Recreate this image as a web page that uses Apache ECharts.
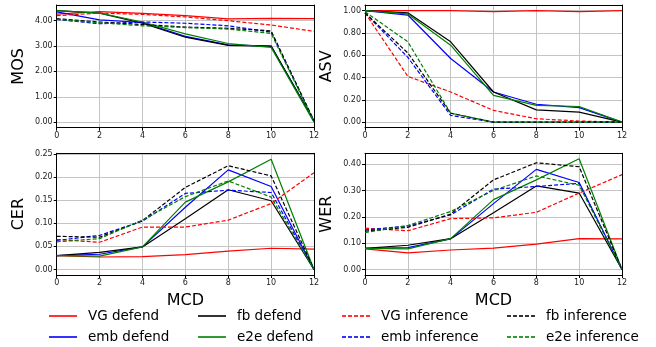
<!DOCTYPE html>
<html><head><meta charset="utf-8">
<script src="https://cdn.jsdelivr.net/npm/echarts@6/dist/echarts.min.js"></script>
<style>html,body{margin:0;padding:0;background:#fff}#c{width:656px;height:347px}</style>
</head><body><div id="c"></div>
<script>
// x positions (MCD)
const mcd = [0, 2, 4, 6, 8, 10, 12];
const xTicks = [0, 2, 4, 6, 8, 10, 12];
const seriesNames = ['VG defend', 'emb defend', 'fb defend', 'e2e defend',
                     'VG inference', 'emb inference', 'fb inference', 'e2e inference'];

// MOS
const mosVGDefend   = [4.26, 4.36, 4.29, 4.20, 4.07, 4.09, 4.08];
const mosEmbDefend  = [4.35, 4.03, 3.93, 3.38, 3.05, 3.00, 0.03];
const mosFbDefend   = [4.40, 4.30, 3.90, 3.35, 3.03, 3.00, 0.05];
const mosE2eDefend  = [4.40, 4.30, 3.95, 3.48, 3.10, 2.95, 0.00];
const mosVGInf      = [4.20, 4.30, 4.25, 4.15, 4.00, 3.83, 3.58];
const mosEmbInf     = [4.05, 3.88, 3.95, 3.90, 3.80, 3.55, 0.05];
const mosFbInf      = [4.08, 3.95, 3.85, 3.75, 3.70, 3.60, 0.05];
const mosE2eInf     = [4.05, 3.92, 3.80, 3.73, 3.67, 3.50, 0.02];
// ASV
const asvVGDefend   = [1.00, 1.00, 1.00, 0.99, 1.00, 0.99, 1.00];
const asvEmbDefend  = [1.00, 0.96, 0.57, 0.27, 0.16, 0.13, 0.00];
const asvFbDefend   = [1.00, 0.98, 0.72, 0.27, 0.11, 0.09, 0.00];
const asvE2eDefend  = [1.00, 0.97, 0.69, 0.24, 0.15, 0.14, 0.00];
const asvVGInf      = [0.98, 0.41, 0.27, 0.105, 0.03, 0.01, 0.00];
const asvEmbInf     = [0.98, 0.58, 0.06, 0.00, 0.00, 0.00, 0.00];
const asvFbInf      = [0.98, 0.62, 0.08, 0.00, 0.00, 0.00, 0.00];
const asvE2eInf     = [0.99, 0.72, 0.08, 0.00, 0.00, 0.00, 0.00];
// CER
const cerVGDefend   = [0.030, 0.027, 0.028, 0.032, 0.040, 0.046, 0.044];
const cerEmbDefend  = [0.030, 0.033, 0.049, 0.135, 0.216, 0.180, 0.000];
const cerFbDefend   = [0.030, 0.037, 0.049, 0.110, 0.173, 0.149, 0.000];
const cerE2eDefend  = [0.030, 0.029, 0.049, 0.146, 0.190, 0.239, 0.000];
const cerVGInf      = [0.065, 0.059, 0.092, 0.092, 0.107, 0.143, 0.210];
const cerEmbInf     = [0.063, 0.074, 0.105, 0.165, 0.172, 0.167, 0.000];
const cerFbInf      = [0.072, 0.070, 0.106, 0.178, 0.225, 0.203, 0.000];
const cerE2eInf     = [0.060, 0.067, 0.107, 0.158, 0.192, 0.157, 0.000];
// WER
const werVGDefend   = [0.078, 0.063, 0.074, 0.081, 0.096, 0.117, 0.116];
const werEmbDefend  = [0.080, 0.083, 0.116, 0.250, 0.380, 0.330, 0.000];
const werFbDefend   = [0.080, 0.092, 0.117, 0.215, 0.317, 0.290, 0.000];
const werE2eDefend  = [0.080, 0.078, 0.117, 0.265, 0.340, 0.420, 0.000];
const werVGInf      = [0.157, 0.147, 0.193, 0.196, 0.217, 0.290, 0.360];
const werEmbInf     = [0.150, 0.165, 0.207, 0.305, 0.315, 0.327, 0.000];
const werFbInf      = [0.145, 0.160, 0.210, 0.340, 0.405, 0.390, 0.000];
const werE2eInf     = [0.140, 0.167, 0.220, 0.300, 0.355, 0.320, 0.000];

const mosTicks = [0, 1, 2, 3, 4];
const asvTicks = [0, 0.2, 0.4, 0.6, 0.8, 1.0];
const cerTicks = [0, 0.05, 0.10, 0.15, 0.20, 0.25];
const werTicks = [0, 0.1, 0.2, 0.3, 0.4];

const colors = ['#ff0000', '#0000ff', '#000000', '#008000'];
const FONT = 'DejaVu Sans';

const panels = [
  {title: 'MOS', min: -0.22, max: 4.62, ticks: mosTicks,
   data: [mosVGDefend, mosEmbDefend, mosFbDefend, mosE2eDefend, mosVGInf, mosEmbInf, mosFbInf, mosE2eInf],
   grid: {left: 56.7, top: 5, width: 257.3, height: 122.7}, xname: ''},
  {title: 'ASV', min: -0.05, max: 1.05, ticks: asvTicks,
   data: [asvVGDefend, asvEmbDefend, asvFbDefend, asvE2eDefend, asvVGInf, asvEmbInf, asvFbInf, asvE2eInf],
   grid: {left: 365, top: 5, width: 257, height: 122.7}, xname: ''},
  {title: 'CER', min: -0.012, max: 0.252, ticks: cerTicks,
   data: [cerVGDefend, cerEmbDefend, cerFbDefend, cerE2eDefend, cerVGInf, cerEmbInf, cerFbInf, cerE2eInf],
   grid: {left: 56.7, top: 153.3, width: 257.3, height: 121.7}, xname: 'MCD'},
  {title: 'WER', min: -0.021, max: 0.441, ticks: werTicks,
   data: [werVGDefend, werEmbDefend, werFbDefend, werE2eDefend, werVGInf, werEmbInf, werFbInf, werE2eInf],
   grid: {left: 365, top: 153.3, width: 257, height: 121.7}, xname: 'MCD'}
];

const grid = [], xAxis = [], yAxis = [], series = [];
const labelStyle = {fontFamily: FONT, fontSize: 8, color: '#222'};
panels.forEach((p, i) => {
  grid.push(Object.assign({containLabel: false}, p.grid));
  xAxis.push({
    type: 'value', gridIndex: i, min: 0, max: 12, interval: 2,
    axisLine: {show: true, onZero: false, lineStyle: {color: '#000', width: 1}},
    axisTick: {show: true, length: 3, lineStyle: {color: '#000'}},
    axisLabel: Object.assign({margin: 4, formatter: v => String(v)}, labelStyle),
    splitLine: {show: true, lineStyle: {color: '#c4c4c4', width: 1}},
    name: p.xname, nameLocation: 'middle', nameGap: 18,
    nameTextStyle: {fontFamily: FONT, fontSize: 16, color: '#000'}
  });
  xAxis.push({
    type: 'value', gridIndex: i, min: 0, max: 12, position: 'top', z: 5,
    axisLine: {show: true, onZero: false, lineStyle: {color: '#000', width: 1}},
    axisTick: {show: false}, axisLabel: {show: false}, splitLine: {show: false}
  });
  yAxis.push({
    type: 'value', gridIndex: i, min: p.min, max: p.max,
    axisLine: {show: true, onZero: false, lineStyle: {color: '#000', width: 1}},
    axisTick: {show: true, length: 3, customValues: p.ticks, lineStyle: {color: '#000'}},
    axisLabel: Object.assign({margin: 4, customValues: p.ticks, formatter: v => Number(v).toFixed(2)}, labelStyle),
    splitLine: {show: true, lineStyle: {color: '#c4c4c4', width: 1}},
    name: p.title, nameLocation: 'middle', nameGap: 30,
    nameTextStyle: {fontFamily: FONT, fontSize: 16, color: '#000'}
  });
  yAxis.push({
    type: 'value', gridIndex: i, min: p.min, max: p.max, position: 'right', z: 5,
    axisLine: {show: true, onZero: false, lineStyle: {color: '#000', width: 1}},
    axisTick: {show: false}, axisLabel: {show: false}, splitLine: {show: false}
  });
  p.data.forEach((arr, k) => {
    series.push({
      type: 'line', name: seriesNames[k],
      xAxisIndex: 2 * i, yAxisIndex: 2 * i,
      data: mcd.map((x, j) => [x, arr[j]]),
      symbol: 'none', silent: true, animation: false,
      color: colors[k % 4],
      lineStyle: {color: colors[k % 4], width: 1.2, type: k < 4 ? 'solid' : [4, 2]}
    });
  });
});

// legend: matplotlib ncol=4, column-major
const legendCols = [48, 197, 341, 506];
const legendRows = [309, 330];
const legend = seriesNames.map((n, k) => ({
  data: [n], selectedMode: false,
  left: legendCols[Math.floor(k / 2)], top: legendRows[k % 2],
  itemWidth: 28, itemHeight: 14, padding: 0,
  itemStyle: {opacity: 0},
  lineStyle: {opacity: 0.8},
  textStyle: {fontFamily: FONT, fontSize: 13.5, color: '#000', padding: [0, 0, 0, 6]}
}));

const chart = echarts.init(document.getElementById('c'), null, {renderer: 'canvas'});
chart.setOption({animation: false, backgroundColor: '#fff', grid, xAxis, yAxis, series, legend});
</script></body></html>
